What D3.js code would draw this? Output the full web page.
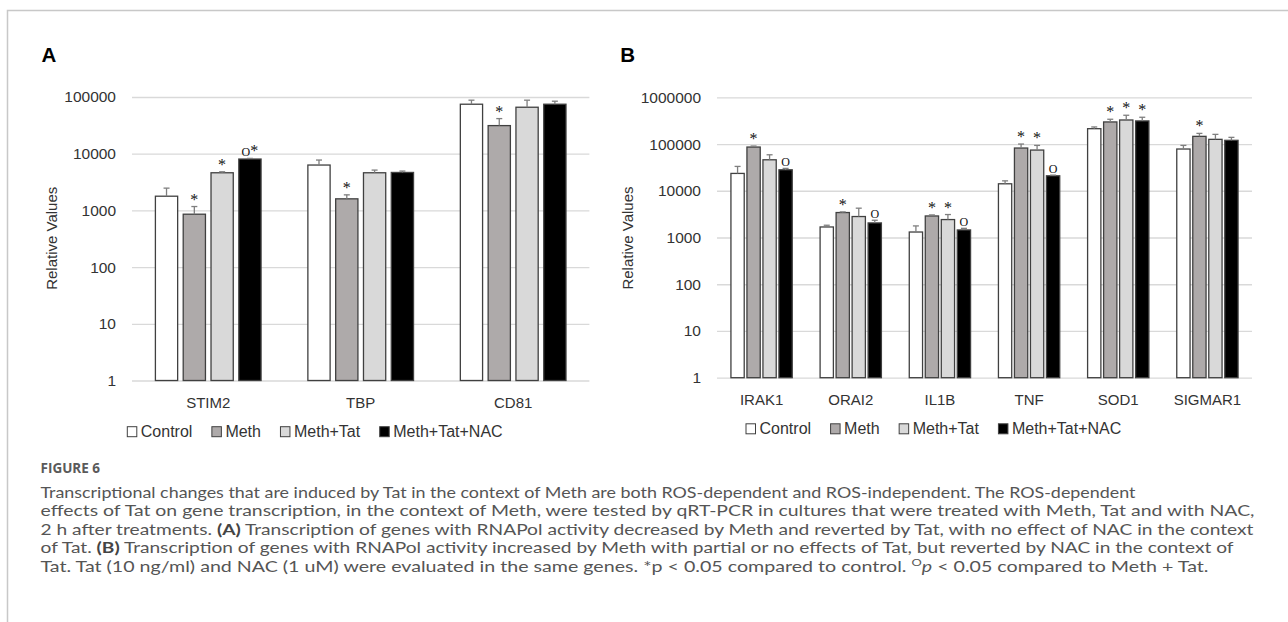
<!DOCTYPE html>
<html>
<head>
<meta charset="utf-8">
<script src="https://cdn.jsdelivr.net/npm/d3@7/dist/d3.min.js"></script>
<style>
  html, body { margin: 0; padding: 0; background: #fff; }
  svg { display: block; }
</style>
</head>
<body>
<svg id="chart" width="1288" height="622"></svg>
<script>
// ---------------- DATA ----------------
const seriesNames = ["Control", "Meth", "Meth+Tat", "Meth+Tat+NAC"];

// Panel A
const categoriesA = ["STIM2", "TBP", "CD81"];
const controlA  = [1780, 6310, 74600];
const methA     = [857, 1600, 31300];
const methTatA  = [4610, 4610, 66000];
const nacA      = [8050, 4670, 74600];
const controlErrA = [690, 1420, 13300];
const methErrA    = [313, 280, 10300];
const methTatErrA = [190, 530, 21900];
const nacErrA     = [210, 270, 9700];
const marksA = [["", "*", "*", "O*"], ["", "*", "", ""], ["", "*", "", ""]];
const ticksA = [1, 10, 100, 1000, 10000, 100000];

// Panel B
const categoriesB = ["IRAK1", "ORAI2", "IL1B", "TNF", "SOD1", "SIGMAR1"];
const controlB  = [23500, 1680, 1310, 14100, 213000, 78200];
const methB     = [86200, 3420, 2890, 82100, 297000, 146000];
const methTatB  = [46000, 2810, 2420, 74300, 327000, 126000];
const nacB      = [28100, 2050, 1450, 20900, 312000, 120000];
const controlErrB = [9700, 150, 460, 2200, 19000, 15300];
const methErrB    = [4400, 110, 150, 17900, 42000, 23000];
const methTatErrB = [12900, 1430, 680, 19200, 86000, 35000];
const nacErrB     = [2000, 290, 120, 700, 62000, 19000];
const marksB = [["", "*", "", "O"], ["", "*", "", "O"], ["", "*", "*", "O"],
                ["", "*", "*", "O"], ["", "*", "*", "*"], ["", "*", "", ""]];
const ticksB = [1, 10, 100, 1000, 10000, 100000, 1000000];

const yTitle = "Relative Values";
const figureLabel = "FIGURE 6";

// ---------------- STYLE ----------------
const fills = ["#ffffff", "#aeaaaa", "#d9d9d9", "#000000"];
const sansFont = "'Liberation Sans', Arial, sans-serif";
const serifFont = "'Liberation Serif', 'Times New Roman', serif";
const textColor = "#333333";

const svg = d3.select("#chart");
svg.append("rect").attr("width", 1288).attr("height", 622).attr("fill", "#fff");

// frame
svg.append("path")
  .attr("d", "M7.5,622 L7.5,10.5 L1288,10.5")
  .attr("fill", "none").attr("stroke", "#c8c8c8").attr("stroke-width", 1.5);

function buildRows(cats, vals, errs, marks) {
  return cats.map((c, i) => ({
    cat: c,
    bars: seriesNames.map((s, j) => ({
      series: s, idx: j, value: vals[j][i], err: errs[j][i], mark: marks[i][j]
    }))
  }));
}

function drawPanel(cfg) {
  const g = svg.append("g");
  const x0 = d3.scaleBand().domain(cfg.cats).range([cfg.left, cfg.right])
    .paddingInner(cfg.padOuterBand).paddingOuter(cfg.padOuterBand / 2);
  const x1 = d3.scaleBand().domain(seriesNames).range([0, x0.bandwidth()])
    .paddingInner(cfg.padInner);
  const y = d3.scaleLog().domain([1, cfg.ticks[cfg.ticks.length - 1]])
    .range([cfg.bottom, cfg.top]);

  // gridlines + y labels
  const yAxis = d3.axisLeft(y).tickValues(cfg.ticks)
    .tickFormat(d3.format("d"))
    .tickSizeInner(-(cfg.right - cfg.left)).tickSizeOuter(0).tickPadding(16);
  const ya = g.append("g").attr("transform", `translate(${cfg.left},0)`).call(yAxis);
  ya.select(".domain").remove();
  ya.selectAll(".tick line").attr("stroke", "#d9d9d9").attr("stroke-width", 1.3);
  ya.selectAll(".tick text").attr("font-family", sansFont).attr("font-size", 15.5)
    .attr("fill", textColor);

  // x labels
  const xAxis = d3.axisBottom(x0).tickSize(0).tickPadding(17);
  const xa = g.append("g").attr("transform", `translate(0,${cfg.bottom})`).call(xAxis);
  xa.select(".domain").remove();
  xa.selectAll(".tick text").attr("font-family", sansFont).attr("font-size", 15)
    .attr("fill", textColor);

  const rows = buildRows(cfg.cats, cfg.vals, cfg.errs, cfg.marks);
  const grp = g.selectAll(".grp").data(rows).join("g")
    .attr("transform", d => `translate(${x0(d.cat)},0)`);

  // bars
  grp.selectAll("rect.bar").data(d => d.bars).join("rect")
    .attr("class", "bar")
    .attr("x", d => x1(d.series))
    .attr("width", x1.bandwidth())
    .attr("y", d => y(d.value))
    .attr("height", d => y(1) - y(d.value))
    .attr("fill", d => fills[d.idx])
    .attr("stroke", "#404040").attr("stroke-width", 1.3);

  // error bars
  const eb = grp.selectAll("g.err").data(d => d.bars).join("g").attr("class", "err");
  eb.append("line")
    .attr("x1", d => x1(d.series) + x1.bandwidth() / 2)
    .attr("x2", d => x1(d.series) + x1.bandwidth() / 2)
    .attr("y1", d => y(d.value))
    .attr("y2", d => y(d.value + d.err))
    .attr("stroke", "#7f7f7f").attr("stroke-width", 1.3);
  eb.append("line")
    .attr("x1", d => x1(d.series) + x1.bandwidth() / 2 - 3)
    .attr("x2", d => x1(d.series) + x1.bandwidth() / 2 + 3)
    .attr("y1", d => y(d.value + d.err))
    .attr("y2", d => y(d.value + d.err))
    .attr("stroke", "#7f7f7f").attr("stroke-width", 1.3);

  // significance marks
  const mk = grp.selectAll("text.mark").data(d => d.bars.filter(b => b.mark)).join("text")
    .attr("class", "mark")
    .attr("x", d => x1(d.series) + x1.bandwidth() / 2)
    .attr("y", d => y(d.value + d.err) - 2)
    .attr("text-anchor", "middle")
    .attr("font-family", serifFont)
    .attr("fill", "#111");
  mk.each(function(d) {
    const t = d3.select(this);
    for (const ch of d.mark) {
      t.append("tspan").text(ch).attr("font-size", ch === "O" ? 12 : 16);
    }
  });

  // y title
  g.append("text")
    .attr("transform", `translate(${cfg.titleX},${cfg.titleY}) rotate(-90)`)
    .attr("text-anchor", "middle").attr("dominant-baseline", "central")
    .attr("font-family", sansFont).attr("font-size", 15).attr("fill", textColor)
    .text(yTitle);

  // panel letter
  g.append("text").attr("x", cfg.letterX).attr("y", 61.5)
    .attr("font-family", sansFont).attr("font-weight", "bold").attr("font-size", 20.5)
    .attr("fill", "#000").text(cfg.letter);

  // legend
  const lg = g.append("g");
  let lx = cfg.legendX;
  seriesNames.forEach((s, i) => {
    lg.append("rect").attr("x", lx).attr("y", cfg.legendY - 5).attr("width", 9.5).attr("height", 10)
      .attr("fill", fills[i]).attr("stroke", "#404040").attr("stroke-width", 1);
    const t = lg.append("text").attr("x", lx + 13.5).attr("y", cfg.legendY)
      .attr("dominant-baseline", "central")
      .attr("font-family", sansFont).attr("font-size", 16).attr("fill", textColor).text(s);
    lx += 13.5 + t.node().getComputedTextLength() + 19.5;
  });
}

drawPanel({
  letter: "A", letterX: 41.5,
  cats: categoriesA, vals: [controlA, methA, methTatA, nacA],
  errs: [controlErrA, methErrA, methTatErrA, nacErrA], marks: marksA, ticks: ticksA,
  left: 132, right: 589.4, top: 97, bottom: 380.5,
  padOuterBand: 0.307, padInner: 0.2,
  titleX: 51.7, titleY: 238.3, legendX: 127.3, legendY: 431.7
});

drawPanel({
  letter: "B", letterX: 620.3,
  cats: categoriesB, vals: [controlB, methB, methTatB, nacB],
  errs: [controlErrB, methErrB, methTatErrB, nacErrB], marks: marksB, ticks: ticksB,
  left: 717, right: 1252, top: 97.3, bottom: 377.7,
  padOuterBand: 0.3125, padInner: 0.17,
  titleX: 627.8, titleY: 238, legendX: 746, legendY: 428.8
});

// ---------------- CAPTION ----------------
const capFont = "Lato, 'Open Sans', sans-serif";
svg.append("text").attr("x", 40.5).attr("y", 472.5)
  .attr("font-family", "'Open Sans', 'Noto Sans', sans-serif").attr("font-weight", "bold").attr("font-size", 13.5)
  .attr("fill", "#5a5a5a").text(figureLabel);

const captionLines = [
  { w: 1095, parts: [{ t: "Transcriptional changes that are induced by Tat in the context of Meth are both ROS-dependent and ROS-independent. The ROS-dependent" }] },
  { w: 1214, parts: [{ t: "effects of Tat on gene transcription, in the context of Meth, were tested by qRT-PCR in cultures that were treated with Meth, Tat and with NAC," }] },
  { w: 1213, parts: [{ t: "2 h after treatments. " }, { t: "(A)", b: true }, { t: " Transcription of genes with RNAPol activity decreased by Meth and reverted by Tat, with no effect of NAC in the context" }] },
  { w: 1193, parts: [{ t: "of Tat. " }, { t: "(B)", b: true }, { t: " Transcription of genes with RNAPol activity increased by Meth with partial or no effects of Tat, but reverted by NAC in the context of" }] },
  { w: 1168, parts: [{ t: "Tat. Tat (10 ng/ml) and NAC (1 uM) were evaluated in the same genes. *p < 0.05 compared to control. " }, { t: "O", sup: true }, { t: "p", i: true }, { t: " < 0.05 compared to Meth + Tat." }] }
];
captionLines.forEach((ln, k) => {
  const t = svg.append("text").attr("x", 40.5).attr("y", 498 + k * 18.4)
    .attr("font-family", capFont).attr("font-size", 15.3).attr("fill", "#555")
    .attr("textLength", ln.w).attr("lengthAdjust", "spacingAndGlyphs");
  ln.parts.forEach(p => {
    const s = t.append("tspan").text(p.t);
    if (p.b) s.attr("font-weight", "bold").attr("fill", "#444");
    if (p.i) s.attr("font-style", "italic");
    if (p.sup) s.attr("font-size", 10).attr("baseline-shift", "super");
  });
});
</script>
</body>
</html>
